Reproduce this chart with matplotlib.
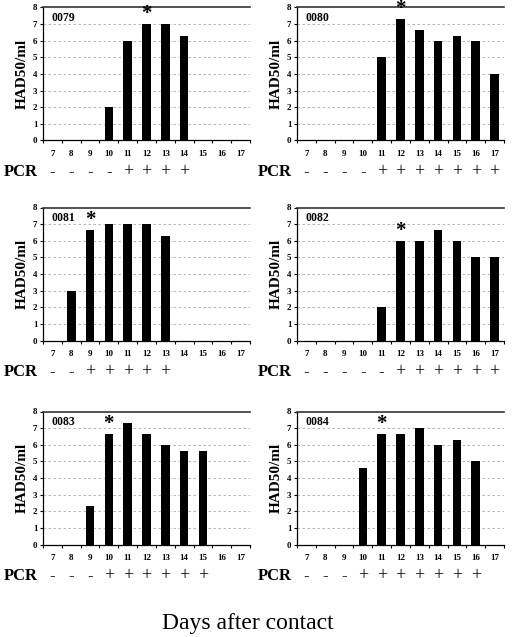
import numpy as np
import matplotlib.pyplot as plt

plt.rcParams['font.family'] = ['Liberation Serif', 'DejaVu Serif']

days = list(range(7, 18))

# HAD50/ml titres per animal (0 = no bar)
ids = ["0079", "0080", "0081", "0082", "0083", "0084"]
had_0079 = [0, 0, 0, 2.0, 6.0, 7.0, 7.0, 6.3, 0, 0, 0]
had_0080 = [0, 0, 0, 0, 5.0, 7.3, 6.65, 6.0, 6.3, 6.0, 4.0]
had_0081 = [0, 3.0, 6.65, 7.0, 7.0, 7.0, 6.3, 0, 0, 0, 0]
had_0082 = [0, 0, 0, 0, 2.0, 6.0, 6.0, 6.65, 6.0, 5.0, 5.0]
had_0083 = [0, 0, 2.3, 6.65, 7.3, 6.65, 6.0, 5.6, 5.6, 0, 0]
had_0084 = [0, 0, 0, 4.6, 6.65, 6.65, 7.0, 6.0, 6.3, 5.0, 0]

pcr_0079 = "----++++"
pcr_0080 = "----+++++++"
pcr_0081 = "--+++++"
pcr_0082 = "-----++++++"
pcr_0083 = "---++++++"
pcr_0084 = "---+++++++"

star_day = [12, 12, 9, 12, 10, 11]

values = [had_0079, had_0080, had_0081, had_0082, had_0083, had_0084]
pcrs = [pcr_0079, pcr_0080, pcr_0081, pcr_0082, pcr_0083, pcr_0084]

W, H = 512, 637
fig = plt.figure(figsize=(W / 100, H / 100), dpi=100)

lefts = [43, 297]
tops = [7.5, 207.5, 411.5]
ax_w = 207
ax_h = 133

for i in range(6):
    r, c = divmod(i, 2)
    left = lefts[c]
    top = tops[r]
    ax = fig.add_axes([left / W, 1 - (top + ax_h) / H, ax_w / W, ax_h / H])

    vals = np.array(values[i], dtype=float)
    ax.bar(days, vals, width=0.46, color="black", zorder=3)

    ax.set_xlim(6.5, 17.5)
    ax.set_ylim(0, 8)
    ax.set_yticks(range(0, 9))
    ax.set_yticklabels([str(v) for v in range(0, 9)], fontsize=6.5, fontweight="bold")
    ax.set_xticks(days)
    ax.set_xticklabels([str(d) for d in days], fontsize=6.5, fontweight="bold")
    ax.set_xticks(np.arange(6.5, 18.0, 1.0), minor=True)
    ax.tick_params(axis="x", which="major", length=0, pad=7)
    ax.tick_params(axis="x", which="minor", length=2, width=0.8, direction="out")
    ax.tick_params(axis="y", length=2, width=0.8, pad=2)

    for yv in range(1, 8):
        ax.axhline(yv, color="#aaaaaa", lw=0.6, ls=(0, (3, 3)), zorder=1)

    ax.spines["right"].set_visible(False)
    ax.spines["top"].set_color("#333333")
    ax.spines["top"].set_linewidth(1.2)
    ax.spines["left"].set_linewidth(0.9)
    ax.spines["bottom"].set_linewidth(0.9)

    ax.set_ylabel("HAD50/ml", fontsize=11, fontweight="bold", labelpad=3)
    ax.text(0.04, 0.965, ids[i], transform=ax.transAxes, fontsize=8.5,
            fontweight="bold", va="top", ha="left")

    sd = star_day[i]
    sv = vals[days.index(sd)]
    ax.text(sd, sv + 0.6, "*", ha="center", va="center", fontsize=15,
            fontweight="bold", clip_on=False)

    # PCR row
    pcr_y = -0.235
    ax.text(-0.025, pcr_y, "PCR", transform=ax.transAxes, ha="right", va="center",
            fontsize=12, fontweight="bold")
    for j, s in enumerate(pcrs[i]):
        xa = (days[j] - 6.5) / 11
        ax.text(xa, pcr_y, s, transform=ax.transAxes, ha="center", va="center",
                fontsize=13 if s == "+" else 12)

fig.text(248 / W, 1 - 623 / H, "Days after contact", ha="center", va="center",
         fontsize=17)

fig.savefig("out.png", dpi=100)
